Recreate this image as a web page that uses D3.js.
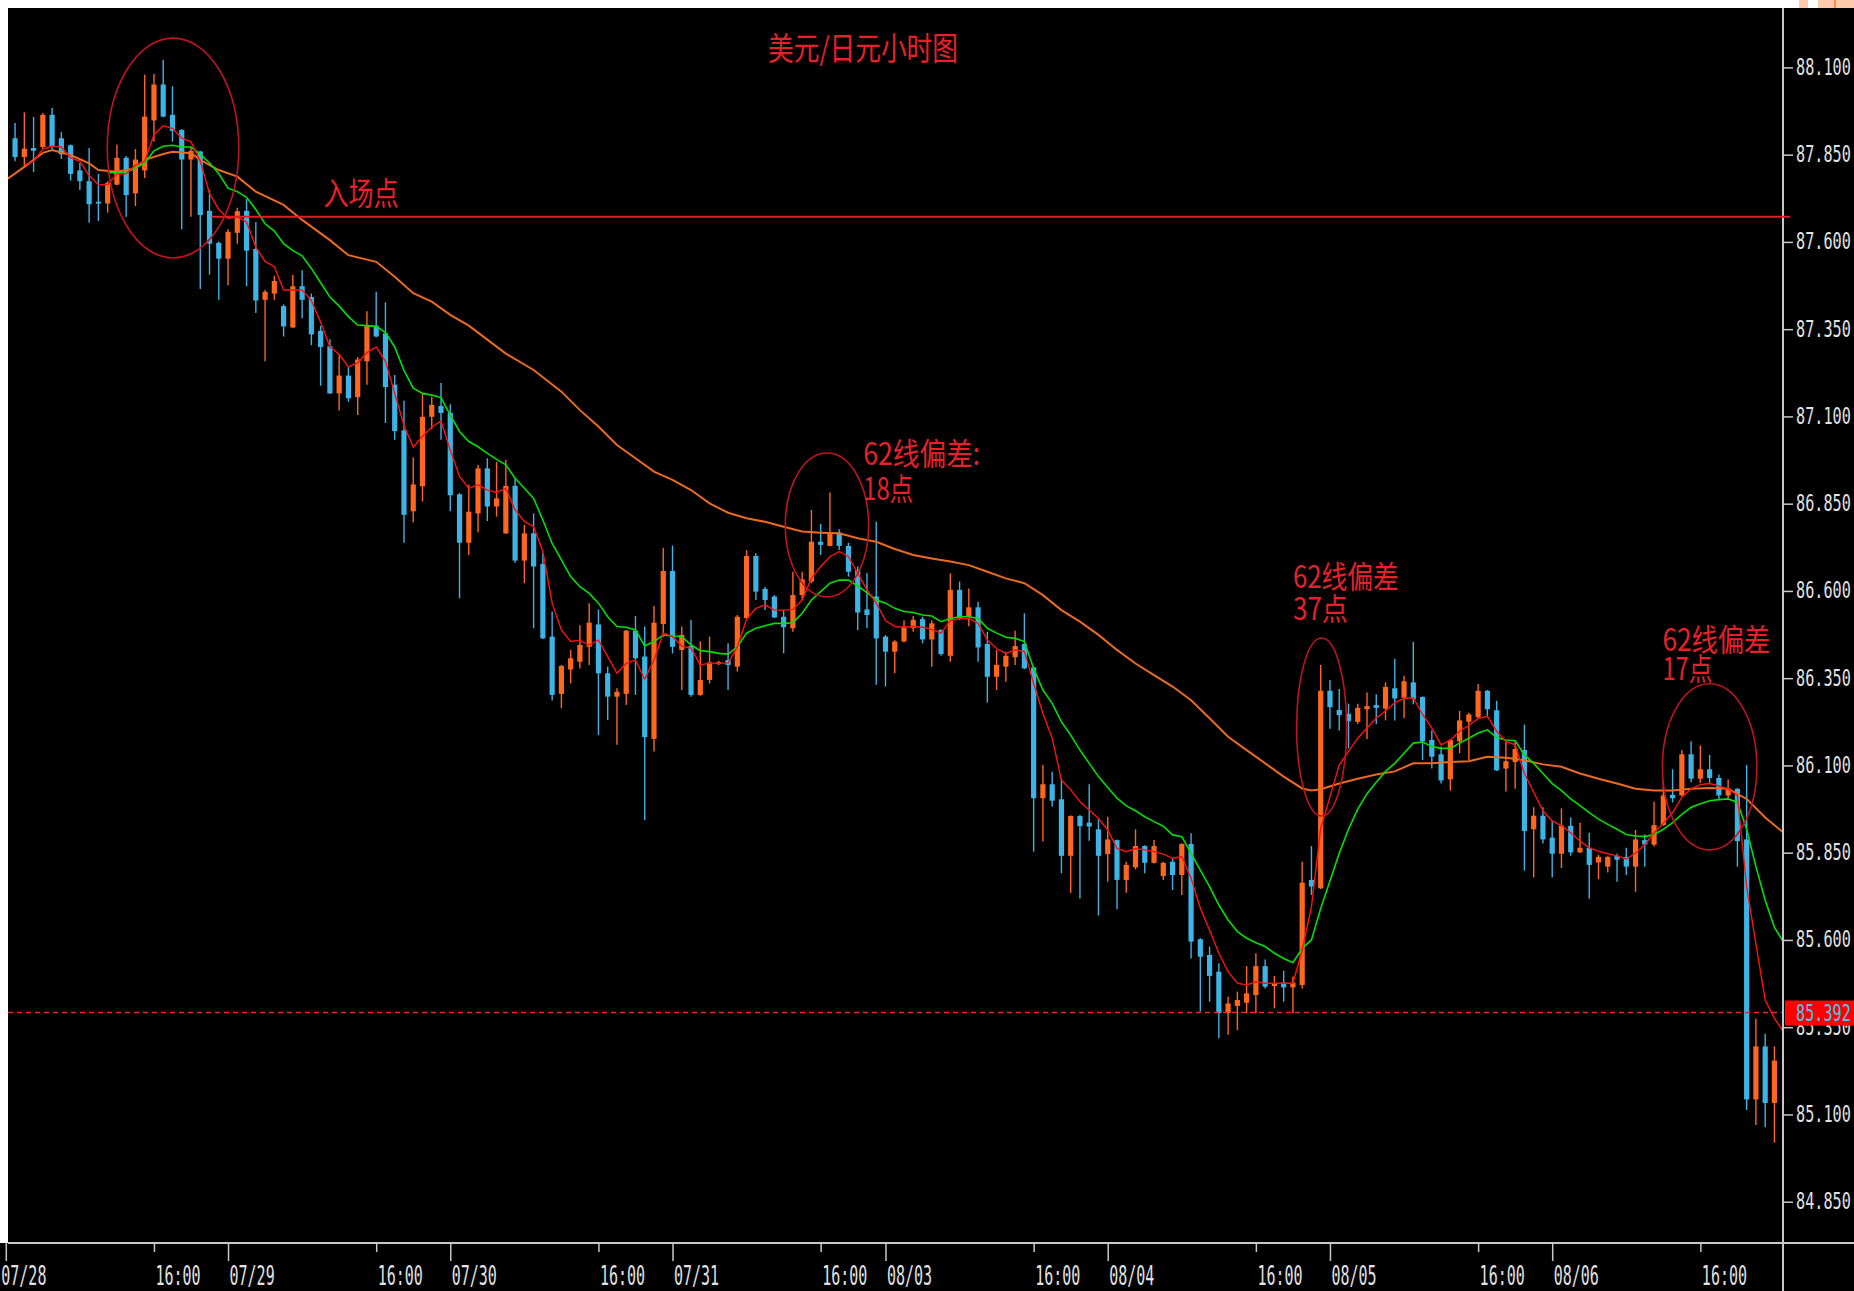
<!DOCTYPE html>
<html>
<head>
<meta charset="utf-8">
<script src="https://cdn.jsdelivr.net/npm/d3@7/dist/d3.min.js"></script>
<style>
    html, body { margin: 0; padding: 0; background: #000; }
    svg { display: block; }
</style>
</head>
<body>
<div id="chart"></div>
<script>
// USD/JPY hourly candles, 07/28 .. 08/06 (index 0 = 07/28 00:00)
var firstIndex = 1;

var opens = [
    87.897, 87.843, 87.869, 87.872, 87.964, 87.897, 87.877, 87.805, 87.774, 87.715,
    87.710, 87.764, 87.841, 87.739, 87.805, 87.948, 88.051, 87.964, 87.921, 87.836,
    87.859, 87.689, 87.597, 87.552, 87.626, 87.689, 87.580, 87.434, 87.452, 87.416,
    87.355, 87.473, 87.442, 87.345, 87.301, 87.166, 87.217, 87.155, 87.258, 87.360,
    87.338, 87.191, 87.060, 86.828, 86.900, 87.099, 87.130, 87.110, 86.877, 86.738,
    86.822, 86.951, 86.842, 86.765, 86.901, 86.687, 86.765, 86.677, 86.469, 86.305,
    86.375, 86.397, 86.440, 86.504, 86.364, 86.297, 86.305, 86.486, 86.412, 86.176,
    86.505, 86.657, 86.431, 86.442, 86.302, 86.345, 86.392, 86.402, 86.383, 86.522,
    86.700, 86.606, 86.584, 86.526, 86.493, 86.588, 86.627, 86.741, 86.729, 86.767,
    86.729, 86.660, 86.547, 86.584, 86.469, 86.426, 86.455, 86.493, 86.519, 86.461,
    86.488, 86.414, 86.603, 86.526, 86.553, 86.448, 86.354, 86.383, 86.410, 86.448,
    86.381, 86.006, 86.046, 86.003, 85.841, 85.955, 85.936, 85.917, 85.846, 85.886,
    85.772, 85.808, 85.869, 85.821, 85.783, 85.824, 85.786, 85.875, 85.602, 85.557,
    85.509, 85.390, 85.411, 85.420, 85.442, 85.525, 85.468, 85.478, 85.464, 85.471,
    85.772, 85.748, 86.314, 86.259, 86.248, 86.225, 86.261, 86.273, 86.263, 86.321,
    86.294, 86.338, 86.296, 86.173, 86.132, 86.060, 86.169, 86.225, 86.238, 86.314,
    86.258, 86.091, 86.110, 86.144, 85.917, 85.956, 85.893, 85.847, 85.927, 85.851,
    85.864, 85.822, 85.810, 85.841, 85.838, 85.810, 85.886, 85.873, 85.929, 86.016,
    86.014, 86.132, 86.062, 86.089, 86.064, 86.014, 86.033, 85.888, 85.143, 85.295,
    85.133
];

var highs = [
    87.941, 87.971, 87.958, 87.969, 87.984, 87.915, 87.879, 87.826, 87.869, 87.795,
    87.774, 87.879, 87.846, 87.866, 88.079, 88.081, 88.122, 88.046, 87.923, 87.872,
    87.861, 87.749, 87.601, 87.636, 87.698, 87.723, 87.657, 87.462, 87.503, 87.421,
    87.505, 87.519, 87.452, 87.360, 87.321, 87.278, 87.242, 87.270, 87.401, 87.457,
    87.427, 87.219, 87.145, 86.982, 87.166, 87.156, 87.196, 87.135, 86.880, 86.904,
    86.961, 86.980, 86.970, 86.975, 86.923, 86.789, 86.822, 86.708, 86.541, 86.388,
    86.431, 86.502, 86.565, 86.547, 86.383, 86.321, 86.488, 86.528, 86.498, 86.557,
    86.724, 86.730, 86.498, 86.517, 86.455, 86.469, 86.400, 86.450, 86.531, 86.717,
    86.708, 86.612, 86.588, 86.545, 86.655, 86.655, 86.832, 86.792, 86.882, 86.777,
    86.738, 86.670, 86.651, 86.798, 86.474, 86.459, 86.515, 86.528, 86.526, 86.515,
    86.490, 86.650, 86.627, 86.607, 86.569, 86.483, 86.431, 86.426, 86.486, 86.536,
    86.383, 86.101, 86.082, 86.063, 85.957, 85.958, 86.046, 85.948, 85.953, 85.888,
    85.824, 85.917, 85.871, 85.886, 85.824, 85.834, 85.877, 85.906, 85.605, 85.581,
    85.533, 85.437, 85.452, 85.525, 85.562, 85.544, 85.497, 85.512, 85.495, 85.824,
    85.869, 86.388, 86.345, 86.319, 86.277, 86.277, 86.309, 86.304, 86.338, 86.406,
    86.357, 86.454, 86.298, 86.200, 86.154, 86.176, 86.256, 86.251, 86.333, 86.316,
    86.285, 86.169, 86.169, 86.217, 85.980, 85.980, 85.941, 85.977, 85.951, 85.936,
    85.907, 85.844, 85.840, 85.847, 85.864, 85.915, 85.902, 85.996, 86.057, 86.089,
    86.144, 86.169, 86.157, 86.130, 86.074, 86.060, 86.035, 86.101, 85.375, 85.331,
    85.295
];

var lows = [
    87.831, 87.818, 87.800, 87.866, 87.866, 87.838, 87.776, 87.749, 87.655, 87.660,
    87.684, 87.762, 87.672, 87.703, 87.783, 87.887, 87.957, 87.887, 87.636, 87.672,
    87.465, 87.506, 87.434, 87.476, 87.595, 87.473, 87.396, 87.258, 87.434, 87.329,
    87.353, 87.381, 87.304, 87.188, 87.164, 87.117, 87.142, 87.104, 87.191, 87.327,
    87.081, 87.033, 86.738, 86.797, 86.856, 87.063, 87.033, 86.828, 86.579, 86.703,
    86.768, 86.800, 86.813, 86.763, 86.681, 86.622, 86.493, 86.462, 86.286, 86.264,
    86.335, 86.378, 86.388, 86.187, 86.230, 86.159, 86.273, 86.302, 85.944, 86.140,
    86.469, 86.421, 86.316, 86.297, 86.300, 86.335, 86.388, 86.316, 86.369, 86.520,
    86.574, 86.545, 86.522, 86.421, 86.483, 86.574, 86.622, 86.703, 86.727, 86.717,
    86.641, 86.488, 86.493, 86.331, 86.326, 86.364, 86.453, 86.483, 86.450, 86.383,
    86.414, 86.397, 86.517, 86.499, 86.397, 86.280, 86.316, 86.340, 86.388, 86.376,
    85.853, 85.882, 85.982, 85.791, 85.735, 85.719, 85.884, 85.670, 85.767, 85.688,
    85.735, 85.802, 85.791, 85.819, 85.772, 85.743, 85.729, 85.547, 85.395, 85.423,
    85.318, 85.328, 85.342, 85.390, 85.390, 85.461, 85.404, 85.423, 85.390, 85.461,
    85.729, 85.746, 86.205, 86.200, 86.149, 86.219, 86.176, 86.219, 86.229, 86.229,
    86.236, 86.275, 86.115, 86.091, 86.048, 86.028, 86.135, 86.115, 86.236, 86.238,
    86.084, 86.025, 86.033, 85.799, 85.779, 85.876, 85.779, 85.806, 85.841, 85.849,
    85.718, 85.774, 85.793, 85.767, 85.786, 85.738, 85.810, 85.868, 85.927, 85.994,
    86.012, 86.052, 86.050, 86.050, 86.004, 86.004, 85.810, 85.113, 85.070, 85.063,
    85.019
];

var closes = [
    87.843, 87.867, 87.861, 87.964, 87.872, 87.851, 87.795, 87.774, 87.708, 87.710,
    87.769, 87.841, 87.734, 87.836, 87.959, 88.051, 87.959, 87.918, 87.836, 87.861,
    87.677, 87.595, 87.552, 87.629, 87.688, 87.575, 87.432, 87.457, 87.488, 87.358,
    87.473, 87.434, 87.335, 87.299, 87.166, 87.217, 87.152, 87.263, 87.360, 87.329,
    87.184, 87.058, 86.818, 86.905, 87.099, 87.133, 87.110, 86.874, 86.738, 86.827,
    86.951, 86.842, 86.865, 86.901, 86.687, 86.765, 86.670, 86.464, 86.302, 86.385,
    86.407, 86.445, 86.509, 86.364, 86.297, 86.311, 86.486, 86.407, 86.181, 86.509,
    86.657, 86.440, 86.474, 86.302, 86.345, 86.395, 86.396, 86.388, 86.526, 86.700,
    86.598, 86.574, 86.524, 86.496, 86.588, 86.633, 86.741, 86.732, 86.767, 86.729,
    86.655, 86.538, 86.531, 86.464, 86.426, 86.455, 86.498, 86.517, 86.461, 86.507,
    86.419, 86.603, 86.521, 86.553, 86.438, 86.354, 86.388, 86.414, 86.442, 86.378,
    86.006, 86.046, 85.999, 85.841, 85.955, 85.926, 85.925, 85.841, 85.888, 85.772,
    85.815, 85.869, 85.821, 85.869, 85.821, 85.786, 85.875, 85.595, 85.552, 85.497,
    85.390, 85.418, 85.428, 85.447, 85.525, 85.466, 85.476, 85.464, 85.478, 85.764,
    85.753, 86.314, 86.267, 86.244, 86.227, 86.265, 86.270, 86.265, 86.325, 86.292,
    86.341, 86.290, 86.169, 86.125, 86.057, 86.173, 86.229, 86.246, 86.314, 86.261,
    86.086, 86.112, 86.147, 85.912, 85.956, 85.888, 85.847, 85.928, 85.851, 85.864,
    85.815, 85.838, 85.838, 85.830, 85.810, 85.888, 85.873, 85.929, 86.014, 86.006,
    86.132, 86.062, 86.089, 86.064, 86.014, 86.033, 85.883, 85.143, 85.295, 85.133,
    85.254
];

// short MA (red), starting at index 2
var maRedStart = 2;
var maRed = [
    87.820, 87.831, 87.866, 87.874, 87.872, 87.841, 87.831, 87.790, 87.764, 87.764,
    87.795, 87.795, 87.820, 87.831, 87.907, 87.933, 87.925, 87.897, 87.887, 87.831,
    87.739, 87.693, 87.667, 87.672, 87.657, 87.585, 87.544, 87.529, 87.462, 87.462,
    87.462, 87.432, 87.370, 87.299, 87.278, 87.242, 87.253, 87.283, 87.299, 87.258,
    87.166, 87.074, 87.012, 87.043, 87.069, 87.087, 87.003, 86.928, 86.894, 86.904,
    86.889, 86.882, 86.894, 86.832, 86.799, 86.784, 86.713, 86.565, 86.488, 86.455,
    86.459, 86.445, 86.459, 86.412, 86.364, 86.393, 86.402, 86.347, 86.402, 86.479,
    86.469, 86.442, 86.436, 86.388, 86.393, 86.393, 86.393, 86.440, 86.519, 86.550,
    86.560, 86.545, 86.545, 86.547, 86.574, 86.636, 86.670, 86.698, 86.713, 86.698,
    86.651, 86.603, 86.565, 86.515, 86.498, 86.496, 86.498, 86.496, 86.490, 86.479,
    86.515, 86.521, 86.521, 86.507, 86.459, 86.435, 86.421, 86.431, 86.426, 86.335,
    86.249, 86.178, 86.058, 86.030, 85.996, 85.972, 85.948, 85.915, 85.862, 85.853,
    85.862, 85.858, 85.853, 85.846, 85.834, 85.839, 85.777, 85.691, 85.628, 85.562,
    85.509, 85.476, 85.471, 85.480, 85.476, 85.476, 85.476, 85.476, 85.571, 85.695,
    85.920, 86.010, 86.101, 86.140, 86.178, 86.207, 86.236, 86.256, 86.280, 86.292,
    86.294, 86.246, 86.207, 86.159, 86.173, 86.198, 86.215, 86.234, 86.241, 86.198,
    86.169, 86.159, 86.077, 86.023, 85.970, 85.941, 85.927, 85.907, 85.883, 85.864,
    85.854, 85.847, 85.841, 85.832, 85.849, 85.873, 85.907, 85.934, 85.965, 86.009,
    86.033, 86.045, 86.048, 86.041, 86.033, 86.014, 85.752, 85.588, 85.428, 85.375,
    85.336
];

// middle MA (green), starting at index 11
var maGreenStart = 11;
var maGreen = [
    87.798, 87.798, 87.798, 87.812, 87.826, 87.861, 87.874, 87.877, 87.872, 87.872,
    87.851, 87.826, 87.795, 87.754, 87.744, 87.728, 87.693, 87.652, 87.631, 87.595,
    87.575, 87.560, 87.524, 87.483, 87.442, 87.416, 87.386, 87.362, 87.360, 87.358,
    87.340, 87.299, 87.232, 87.181, 87.166, 87.161, 87.154, 87.104, 87.057, 87.028,
    87.013, 86.994, 86.977, 86.961, 86.923, 86.894, 86.865, 86.803, 86.736, 86.689,
    86.641, 86.612, 86.593, 86.565, 86.526, 86.498, 86.496, 86.488, 86.442, 86.455,
    86.474, 86.471, 86.469, 86.445, 86.429, 86.426, 86.421, 86.419, 86.440, 86.479,
    86.493, 86.500, 86.507, 86.507, 86.509, 86.536, 86.574, 86.598, 86.622, 86.631,
    86.631, 86.614, 86.595, 86.574, 86.565, 86.550, 86.541, 86.538, 86.531, 86.528,
    86.512, 86.521, 86.526, 86.526, 86.521, 86.493, 86.479, 86.467, 86.464, 86.455,
    86.378, 86.316, 86.278, 86.225, 86.187, 86.144, 86.106, 86.068, 86.037, 86.006,
    85.984, 85.970, 85.953, 85.939, 85.926, 85.901, 85.896, 85.848, 85.800, 85.753,
    85.700, 85.657, 85.624, 85.605, 85.592, 85.581, 85.562, 85.547, 85.535, 85.576,
    85.600, 85.690, 85.769, 85.848, 85.917, 85.975, 86.019, 86.052, 86.083, 86.106,
    86.135, 86.164, 86.167, 86.154, 86.149, 86.149, 86.164, 86.178, 86.193, 86.202,
    86.180, 86.173, 86.171, 86.130, 86.106, 86.077, 86.048, 86.028, 86.004, 85.985,
    85.965, 85.946, 85.931, 85.917, 85.902, 85.898, 85.896, 85.902, 85.917, 85.936,
    85.960, 85.980, 85.990, 85.999, 86.002, 86.004, 85.994, 85.917, 85.810, 85.714,
    85.636, 85.593
];

// 62 MA (orange), [index, price]
var maOrange = [
    [0, 87.777], [2, 87.815], [4, 87.855], [5, 87.863], [7, 87.849], [9, 87.825],
    [10, 87.806], [12, 87.801], [14, 87.811], [15, 87.835], [17, 87.852], [18, 87.858],
    [20, 87.854], [21, 87.835], [23, 87.806], [25, 87.787], [27, 87.744], [30, 87.706],
    [32, 87.663], [35, 87.605], [37, 87.562], [40, 87.543], [42, 87.500], [44, 87.453],
    [46, 87.429], [48, 87.391], [50, 87.360], [52, 87.320], [54, 87.280], [57, 87.233],
    [60, 87.171], [62, 87.118], [64, 87.071], [66, 87.018], [68, 86.980], [70, 86.942],
    [72, 86.918], [74, 86.889], [76, 86.851], [78, 86.824], [80, 86.808], [82, 86.798],
    [84, 86.784], [86, 86.770], [88, 86.767], [90, 86.765], [92, 86.751], [94, 86.741],
    [96, 86.720], [98, 86.703], [100, 86.693], [102, 86.684], [104, 86.674], [106, 86.655],
    [108, 86.636], [110, 86.622], [112, 86.588], [114, 86.545], [116, 86.512], [118, 86.474],
    [120, 86.431], [122, 86.392], [124, 86.359], [126, 86.326], [128, 86.287], [130, 86.235],
    [132, 86.182], [134, 86.144], [136, 86.106], [138, 86.068], [140, 86.034], [141, 86.028],
    [142, 86.032], [144, 86.048], [146, 86.062], [148, 86.074], [150, 86.083], [152, 86.106],
    [154, 86.106], [156, 86.110], [158, 86.112], [160, 86.125], [162, 86.122], [164, 86.115],
    [166, 86.103], [168, 86.096], [170, 86.077], [172, 86.062], [174, 86.048], [176, 86.033],
    [178, 86.028], [180, 86.028], [182, 86.033], [184, 86.035], [186, 86.033], [188, 86.004],
    [190, 85.951], [192, 85.907]
];

var yTicks = [88.1, 87.85, 87.6, 87.35, 87.1, 86.85, 86.6, 86.35, 86.1, 85.85, 85.6, 85.35, 85.1, 84.85];
var xTickIndex = [0, 16, 24, 40, 48, 64, 72, 88, 95, 111, 119, 135, 143, 159, 167, 183];
var xTickLabels = ["07/28", "16:00", "07/29", "16:00", "07/30", "16:00", "07/31", "16:00",
    "08/03", "16:00", "08/04", "16:00", "08/05", "16:00", "08/06", "16:00"];

var entryPrice = 87.672;
var lastPrice = 85.392;

var titleText = "美元/日元小时图";
var entryText = "入场点";
var noteLines = [["62线偏差:", "18点"], ["62线偏差", "37点"], ["62线偏差", "17点"]];

//------------------------------------------------------ layout ---------------------------------------------------//
var W = 1854, H = 1291;
var axisX = 1783, axisY = 1243;
var upColor = "#ff661e", downColor = "#3cb4e6";
var noteColor = "#e8202a", ringColor = "#c0141e";
var cjk = "'Noto Sans CJK SC', 'Noto Sans CJK JP', sans-serif";
var mono = "'DejaVu Sans Mono', 'Liberation Mono', monospace";

// ellipses and notes placed in chart units (candle index, price)
var rings = [
    { i: 18.06, p: 87.869, di: 7.1, dp: 0.315 },
    { i: 88.68, p: 86.789, di: 4.5, dp: 0.206 },
    { i: 142.1, p: 86.210, di: 2.7, dp: 0.255 },
    { i: 184.0, p: 86.096, di: 5.1, dp: 0.238 }
];
var notePos = [
    { i: 92.6, p: [86.961, 86.861], len: [117, 50] },
    { i: 139.0, p: [86.609, 86.517], len: [106, 55] },
    { i: 178.9, p: [86.428, 86.345], len: [108, 50] }
];

var x = d3.scaleLinear().domain([0, 192]).range([5.8, 1783.7]);
var y = d3.scaleLinear().domain([84.85, 88.1]).range([1201.7, 67.4]);

var svg = d3.select("#chart")
    .append("svg")
    .attr("width", W)
    .attr("height", H);

svg.append("rect")
    .attr("width", W)
    .attr("height", H)
    .attr("fill", "#000");

svg.append("defs")
    .append("clipPath")
    .attr("id", "plotClip")
    .append("rect")
    .attr("x", 8)
    .attr("y", 8)
    .attr("width", axisX - 8)
    .attr("height", axisY - 8);

var plot = svg.append("g").attr("clip-path", "url(#plotClip)");

// candles
var candles = opens.map(function (o, k) {
    return { i: k + firstIndex, o: o, h: highs[k], l: lows[k], c: closes[k] };
});

function candleColor(d) {
    return d.c >= d.o ? upColor : downColor;
}

plot.append("g")
    .selectAll("line")
    .data(candles)
    .join("line")
    .attr("x1", function (d) { return x(d.i) })
    .attr("x2", function (d) { return x(d.i) })
    .attr("y1", function (d) { return y(d.h) })
    .attr("y2", function (d) { return y(d.l) })
    .attr("stroke", candleColor)
    .attr("stroke-width", 1.4);

plot.append("g")
    .selectAll("rect")
    .data(candles)
    .join("rect")
    .attr("x", function (d) { return x(d.i) - 2.6 })
    .attr("width", 5.2)
    .attr("y", function (d) { return y(Math.max(d.o, d.c)) })
    .attr("height", function (d) { return Math.max(1.6, Math.abs(y(d.o) - y(d.c))) })
    .attr("fill", candleColor);

// moving averages
var line = d3.line()
    .x(function (d) { return x(d[0]) })
    .y(function (d) { return y(d[1]) });

function withIndex(values, start) {
    return values.map(function (v, k) { return [k + start, v]; });
}

plot.append("path")
    .datum(maOrange)
    .attr("fill", "none")
    .attr("stroke", "#ea6a22")
    .attr("stroke-width", 2)
    .attr("d", line);

plot.append("path")
    .datum(withIndex(maGreen, maGreenStart))
    .attr("fill", "none")
    .attr("stroke", "#00e000")
    .attr("stroke-width", 1.6)
    .attr("d", line);

plot.append("path")
    .datum(withIndex(maRed, maRedStart))
    .attr("fill", "none")
    .attr("stroke", "#ff1010")
    .attr("stroke-width", 1.4)
    .attr("d", line);

// last price dashed line
plot.append("line")
    .attr("x1", 8)
    .attr("x2", axisX)
    .attr("y1", y(lastPrice))
    .attr("y2", y(lastPrice))
    .attr("stroke", "#ff2020")
    .attr("stroke-width", 1.6)
    .attr("stroke-dasharray", "5,4");

// white frame of the screenshot
svg.append("rect").attr("x", 0).attr("y", 0).attr("width", W).attr("height", 8).attr("fill", "#fff");
svg.append("rect").attr("x", 0).attr("y", 0).attr("width", 8).attr("height", axisY).attr("fill", "#fff");
svg.append("rect").attr("x", 1799).attr("y", 0).attr("width", 9).attr("height", 8).attr("fill", "#ffc9ab");
svg.append("rect").attr("x", 1818).attr("y", 0).attr("width", 36).attr("height", 8).attr("fill", "#ffc9ab");
svg.append("rect").attr("x", 1834).attr("y", 0).attr("width", 2).attr("height", 8).attr("fill", "#ff8a4c");

// axis lines
svg.append("line")
    .attr("x1", axisX).attr("x2", axisX)
    .attr("y1", 8).attr("y2", H)
    .attr("stroke", "#c8c8c8")
    .attr("stroke-width", 2);

svg.append("line")
    .attr("x1", 8).attr("x2", W)
    .attr("y1", axisY).attr("y2", axisY)
    .attr("stroke", "#c8c8c8")
    .attr("stroke-width", 2);

// Y axis (right): narrow tall digits, small font stretched vertically
var yAxis = svg.append("g")
    .attr("transform", "translate(" + axisX + ",0)")
    .call(d3.axisRight(y)
        .tickValues(yTicks)
        .tickSize(10)
        .tickPadding(3)
        .tickFormat(d3.format(".3f")));

yAxis.select(".domain").remove();
yAxis.selectAll("line").attr("stroke", "#c8c8c8").attr("stroke-width", 1.5);
yAxis.selectAll("text")
    .attr("x", null)
    .attr("dy", null)
    .attr("transform", "translate(13,7) scale(1,1.5)")
    .attr("fill", "#e2e2e2")
    .style("font-family", mono)
    .style("font-size", "15.2px");

// X axis (bottom)
var xAxis = svg.append("g")
    .attr("transform", "translate(0," + axisY + ")")
    .call(d3.axisBottom(x)
        .tickValues(xTickIndex)
        .tickSize(18)
        .tickFormat(function (d) { return xTickLabels[xTickIndex.indexOf(d)] }));

xAxis.select(".domain").remove();
xAxis.selectAll(".tick line")
    .attr("stroke", "#c8c8c8")
    .attr("stroke-width", 1.5)
    .attr("y2", function (d) { return xTickLabels[xTickIndex.indexOf(d)] == "16:00" ? 9 : 18 });
xAxis.selectAll(".tick text")
    .attr("y", null)
    .attr("dy", null)
    .attr("text-anchor", "start")
    .attr("transform", function (d) { return "translate(" + (d == 0 ? -5 : 1) + ",41.5) scale(1,1.74)" })
    .attr("fill", "#e2e2e2")
    .style("font-family", mono)
    .style("font-size", "15px");

// last price tag
svg.append("rect")
    .attr("x", axisX + 2)
    .attr("y", y(lastPrice) - 12)
    .attr("width", W - axisX - 2)
    .attr("height", 25)
    .attr("fill", "#ff0000");

svg.append("text")
    .attr("transform", "translate(" + (axisX + 13) + "," + (y(lastPrice) + 8) + ") scale(1,1.5)")
    .attr("fill", "#3ec8ee")
    .style("font-family", mono)
    .style("font-size", "15.2px")
    .text(d3.format(".3f")(lastPrice));

// entry line
svg.append("line")
    .attr("x1", x(22.2))
    .attr("x2", axisX + 7)
    .attr("y1", y(entryPrice))
    .attr("y2", y(entryPrice))
    .attr("stroke", "#e01e28")
    .attr("stroke-width", 2);

// ellipses
svg.append("g")
    .selectAll("ellipse")
    .data(rings)
    .join("ellipse")
    .attr("cx", function (d) { return x(d.i) })
    .attr("cy", function (d) { return y(d.p) })
    .attr("rx", function (d) { return x(d.i + d.di) - x(d.i) })
    .attr("ry", function (d) { return y(d.p - d.dp) - y(d.p) })
    .attr("fill", "none")
    .attr("stroke", ringColor)
    .attr("stroke-width", 1.6);

// title and notes
svg.append("text")
    .attr("x", 768)
    .attr("y", 60)
    .attr("fill", noteColor)
    .attr("textLength", 190)
    .attr("lengthAdjust", "spacingAndGlyphs")
    .style("font-family", cjk)
    .style("font-size", "32px")
    .text(titleText);

svg.append("text")
    .attr("x", x(34.3))
    .attr("y", y(87.706))
    .attr("fill", noteColor)
    .attr("textLength", 75)
    .attr("lengthAdjust", "spacingAndGlyphs")
    .style("font-family", cjk)
    .style("font-size", "32px")
    .text(entryText);

// each note is one text block with two lines
notePos.forEach(function (n, k) {
    var t = svg.append("text")
        .attr("fill", noteColor)
        .style("font-family", cjk)
        .style("font-size", "31px");
    noteLines[k].forEach(function (s, j) {
        t.append("tspan")
            .attr("x", x(n.i))
            .attr("y", y(n.p[j]))
            .attr("textLength", n.len[j])
            .attr("lengthAdjust", "spacingAndGlyphs")
            .text(s);
    });
});
</script>
</body>
</html>
